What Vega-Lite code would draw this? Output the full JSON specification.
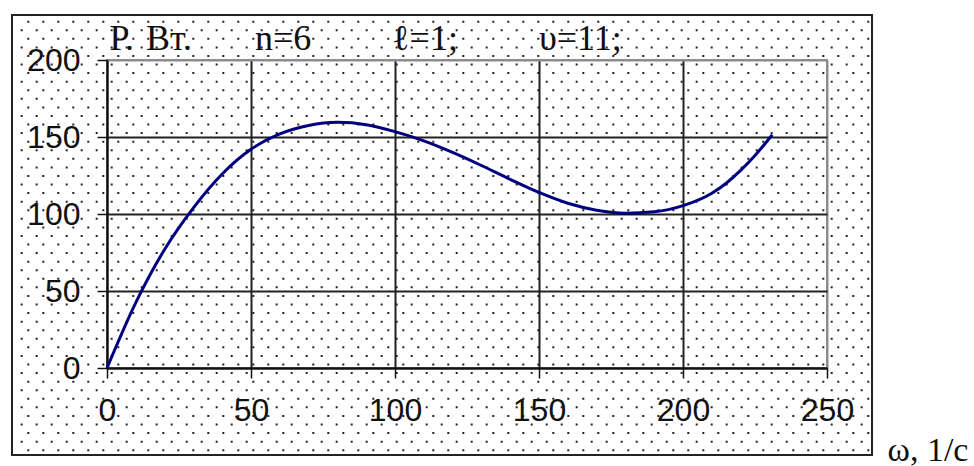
{
  "$schema": "https://vega.github.io/schema/vega-lite/v6.json",
  "width": 720,
  "height": 308,
  "autosize": {"type": "none"},
  "padding": {"left": 107, "top": 60, "right": 147, "bottom": 98},
  "background": "white",
  "config": {"view": {"stroke": "#8c8c8c", "strokeWidth": 2}},
  "title": {
    "text": "Р. \u200aВт.\u00a0\u00a0\u00a0\u00a0\u00a0\u00a0\u00a0n=6\u00a0\u00a0\u00a0\u00a0\u00a0\u00a0\u00a0\u00a0\u00a0ℓ=1;\u00a0\u00a0\u00a0\u00a0\u00a0\u00a0\u00a0\u00a0\u00a0υ=11;",
    "anchor": "start",
    "frame": "group",
    "dx": 2.5,
    "dy": 36,
    "font": "Liberation Serif",
    "fontSize": 36,
    "fontWeight": "normal",
    "color": "#111111",
    "baseline": "alphabetic",
    "offset": -36
  },
  "resolve": {"axis": {"x": "independent", "y": "independent"}},
  "datasets": {
    "curve": [
      {"w": 0, "p": 0}, {"w": 10, "p": 42.5}, {"w": 20, "p": 77}, {"w": 30, "p": 104},
      {"w": 40, "p": 126}, {"w": 50, "p": 142}, {"w": 60, "p": 152}, {"w": 70, "p": 157.5},
      {"w": 80, "p": 159.5}, {"w": 90, "p": 158}, {"w": 100, "p": 153.5}, {"w": 110, "p": 147.5},
      {"w": 120, "p": 140}, {"w": 130, "p": 131.5}, {"w": 140, "p": 122.5}, {"w": 150, "p": 114},
      {"w": 160, "p": 107}, {"w": 170, "p": 102.5}, {"w": 180, "p": 100.5}, {"w": 190, "p": 101.4},
      {"w": 200, "p": 105.4}, {"w": 210, "p": 113.5}, {"w": 215, "p": 120}, {"w": 220, "p": 128.3},
      {"w": 225, "p": 138}, {"w": 231, "p": 151.5}
    ],
    "dotsA": [
      {"v": 224.87}, {"v": 213.74}, {"v": 202.61}, {"v": 191.48}, {"v": 180.35}, {"v": 169.22},
      {"v": 158.09}, {"v": 146.96}, {"v": 135.83}, {"v": 124.7}, {"v": 113.57}, {"v": 102.44},
      {"v": 91.31}, {"v": 80.18}, {"v": 69.05}, {"v": 57.92}, {"v": 46.79}, {"v": 35.66},
      {"v": 24.53}, {"v": 13.4}, {"v": 2.27}, {"v": -8.86}, {"v": -19.99}, {"v": -31.12},
      {"v": -42.25}, {"v": -53.38}
    ],
    "dotsB": [
      {"v": 219.31}, {"v": 208.18}, {"v": 197.05}, {"v": 185.92}, {"v": 174.79}, {"v": 163.66},
      {"v": 152.53}, {"v": 141.4}, {"v": 130.27}, {"v": 119.14}, {"v": 108.01}, {"v": 96.88},
      {"v": 85.75}, {"v": 74.62}, {"v": 63.49}, {"v": 52.36}, {"v": 41.23}, {"v": 30.1},
      {"v": 18.97}, {"v": 7.84}, {"v": -3.29}, {"v": -14.42}, {"v": -25.55}, {"v": -36.68},
      {"v": -47.81}
    ]
  },
  "layer": [
    {
      "data": {"name": "dotsA"},
      "mark": {"type": "rule", "clip": false, "strokeDash": [2, 13], "strokeWidth": 2, "color": "#222222"},
      "encoding": {
        "y": {"field": "v", "type": "quantitative", "scale": {"domain": [0, 200], "nice": false, "zero": false}, "axis": null},
        "x": {"datum": -27.67, "type": "quantitative", "scale": {"domain": [0, 250], "nice": false, "zero": false}, "axis": null},
        "x2": {"datum": 264.9}
      }
    },
    {
      "data": {"name": "dotsB"},
      "mark": {"type": "rule", "clip": false, "strokeDash": [2, 13], "strokeWidth": 2, "color": "#222222"},
      "encoding": {
        "y": {"field": "v", "type": "quantitative", "axis": null},
        "x": {"datum": -29.97, "type": "quantitative", "axis": null},
        "x2": {"datum": 264.9}
      }
    },
    {
      "data": {"values": [{}]},
      "mark": {"type": "rect", "clip": false, "fillOpacity": 0, "stroke": "#222222", "strokeWidth": 2},
      "encoding": {
        "x": {"datum": -32.99, "type": "quantitative", "axis": null},
        "x2": {"datum": 265.63},
        "y": {"datum": -56.49, "type": "quantitative", "axis": null},
        "y2": {"datum": 229.22}
      }
    },
    {
      "data": {"name": "curve"},
      "mark": {"type": "line", "interpolate": "monotone", "color": "#000080", "strokeWidth": 3},
      "encoding": {
        "x": {
          "field": "w",
          "type": "quantitative",
          "axis": {
            "values": [0, 50, 100, 150, 200, 250],
            "title": "ω, 1/с",
            "titleFont": "Liberation Serif",
            "titleFontSize": 34,
            "titleFontWeight": "normal",
            "titleColor": "#111111",
            "titleX": 780,
            "titleY": 92,
            "titleAlign": "left",
            "titleBaseline": "alphabetic",
            "labelFont": "Liberation Sans",
            "labelFontSize": 32,
            "labelColor": "#111111",
            "labelPadding": 17,
            "labelFlush": false,
            "labelOverlap": false,
            "tickSize": 10,
            "tickColor": "#111111",
            "tickWidth": 1.5,
            "domainColor": "#111111",
            "domainWidth": 2,
            "grid": true,
            "gridColor": {"condition": {"test": "datum.value == 250", "value": "#8c8c8c"}, "value": "#222222"},
            "gridWidth": 2,
            "gridOpacity": 1
          }
        },
        "y": {
          "field": "p",
          "type": "quantitative",
          "axis": {
            "values": [0, 50, 100, 150, 200],
            "title": null,
            "labelFont": "Liberation Sans",
            "labelFontSize": 32,
            "labelColor": "#111111",
            "labelPadding": 17,
            "labelAlign": "right",
            "labelBaseline": "middle",
            "labelFlush": false,
            "labelOverlap": false,
            "tickSize": 10,
            "tickColor": "#111111",
            "tickWidth": 1.5,
            "domainColor": "#111111",
            "domainWidth": 2,
            "grid": true,
            "gridColor": {"condition": {"test": "datum.value == 200", "value": "#8c8c8c"}, "value": "#222222"},
            "gridWidth": 2,
            "gridOpacity": 1
          }
        }
      }
    }
  ]
}
